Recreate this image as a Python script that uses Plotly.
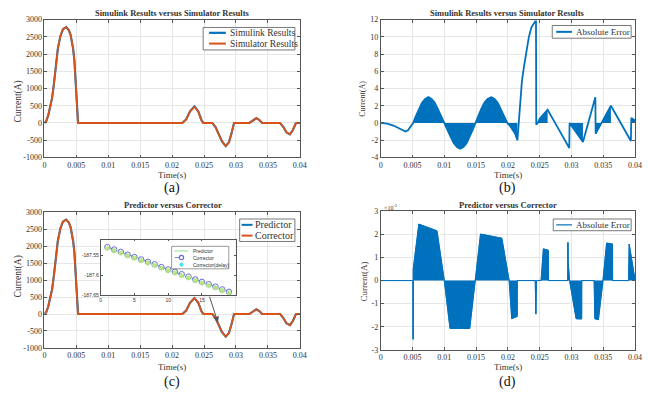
import plotly.graph_objects as go

W, H = 649, 395
SERIF = "Liberation Serif"
SANS = "Liberation Sans"
BLUE = "#0072BD"
ORANGE = "#D95319"
AXIS_C = "#555555"
GRID_C = "#e6e6e6"
TXT_C = "#333333"

# ---------------- data ----------------
time_ticks = [0, 0.005, 0.01, 0.015, 0.02, 0.025, 0.03, 0.035, 0.04]
time_labels = ["0", "0.005", "0.01", "0.015", "0.02", "0.025", "0.03", "0.035", "0.04"]

cur_ticks = [-1000, -500, 0, 500, 1000, 1500, 2000, 2500, 3000]
cur_labels = ["-1000", "-500", "0", "500", "1000", "1500", "2000", "2500", "3000"]

err_ticks_b = [-4, -2, 0, 2, 4, 6, 8, 10, 12]
err_labels_b = ["-4", "-2", "0", "2", "4", "6", "8", "10", "12"]

err_ticks_d = [-3, -2, -1, 0, 1, 2, 3]
err_labels_d = ["-3", "-2", "-1", "0", "1", "2", "3"]

# (a) Simulink vs Simulator currents (A)
time_a = [0, 0.0003, 0.0006, 0.0009, 0.0012, 0.0015, 0.0018, 0.0021, 0.0025, 0.0029,
          0.0034, 0.0038, 0.0041, 0.0043, 0.0045, 0.0047, 0.0049, 0.0051, 0.00527,
          0.008, 0.012, 0.016, 0.0216, 0.0222, 0.0228, 0.0235, 0.0241, 0.0246, 0.0249,
          0.0263, 0.0268, 0.0273, 0.0278, 0.0284, 0.0289, 0.0293, 0.0297,
          0.0321, 0.0327, 0.0332, 0.0337, 0.0341,
          0.0369, 0.0374, 0.0379, 0.03845, 0.0389, 0.0394, 0.04]
simulator_a = [0, 60, 220, 440, 720, 1150, 1700, 2150, 2520, 2720,
               2780, 2700, 2560, 2400, 2150, 1800, 1250, 600, 0,
               0, 8, 0, 0, 100, 330, 470, 330, 80, 0,
               0, -120, -330, -530, -668, -560, -300, 0,
               0, 90, 140, 80, 0,
               0, -110, -270, -330, -210, 0, 0]
simulink_a = [0, 60, 220, 440, 720, 1150, 1700, 2150, 2520, 2720,
              2781, 2701, 2560, 2400, 2150, 1800, 1250, 600, 0,
              0, 8, 0, 0, 102, 338, 481, 342, 80, 0,
              0, -120, -331, -531, -670, -562, -302, 0,
              0, 91, 142, 81, 0,
              0, -110, -271, -331, -211, 0, 0]

# (b) absolute error, Simulink - Simulator (A)
time_b = [0, 0.001, 0.002, 0.003, 0.0035, 0.0039, 0.0043, 0.0047, 0.0051,
          0.0055, 0.006, 0.0065, 0.007, 0.0075, 0.008, 0.0085, 0.009, 0.0095, 0.0100,
          0.0105, 0.011, 0.0115, 0.012, 0.0125, 0.013, 0.0135, 0.014, 0.0145, 0.0149,
          0.0153, 0.0158, 0.0163, 0.0168, 0.0174, 0.0179, 0.0184, 0.0189, 0.0194, 0.0199,
          0.0203, 0.0207, 0.0211, 0.0215,
          0.0217, 0.0219, 0.0222, 0.0225, 0.0229, 0.0233, 0.0237, 0.0241, 0.0243, 0.02442,
          0.02446, 0.0247,
          0.0250, 0.0256, 0.02625,
          0.0278, 0.02965, 0.0297,
          0.0307, 0.0318,
          0.03375, 0.0338,
          0.0362,
          0.03934, 0.0394, 0.0400]
error_b = [0, -0.08, -0.3, -0.7, -0.9, -1.0, -0.85, -0.45, 0,
           0.75, 1.6, 2.35, 2.8, 3.0, 2.8, 2.35, 1.6, 0.75, 0,
           -0.75, -1.6, -2.35, -2.8, -3.0, -2.8, -2.35, -1.6, -0.75, 0,
           0.75, 1.6, 2.35, 2.8, 3.0, 2.8, 2.35, 1.6, 0.75, 0,
           -0.3, -0.7, -1.2, -2.0,
           0.0, 2.5, 4.8, 6.4, 8.5, 10.0, 11.1, 11.65, 11.8, 11.8,
           -0.2, 0.0,
           0.5, 1.0, 1.53,
           -0.48, -2.9, 0.0,
           -1.0, -2.2,
           3.0, -1.24,
           2.0,
           -2.1, 0.57, 0.3]
# time windows in which the error oscillates sample-to-sample (drawn filled)
fill_windows_b = [(0.0051, 0.0100), (0.0100, 0.0149), (0.0149, 0.0199), (0.0199, 0.0215),
                  (0.0247, 0.02625), (0.0297, 0.0318), (0.0338, 0.0362), (0.0394, 0.0400)]

# (c) predictor vs corrector currents (A)
time_c = time_a
predictor_c = [0, 60, 220, 440, 720, 1150, 1700, 2150, 2520, 2720,
               2780, 2700, 2560, 2400, 2150, 1800, 1250, 600, 0,
               0, 8, 0, 0, 100, 330, 470, 330, 80, 0,
               0, -120, -330, -530, -668, -560, -300, 0,
               0, 90, 140, 80, 0,
               0, -110, -270, -330, -210, 0, 0]
corrector_c = [0, 60, 220, 440, 720, 1150, 1700, 2150, 2520, 2720,
               2780, 2700, 2560, 2400, 2150, 1800, 1250, 600, 0,
               0, 8, 0, 0, 100, 330, 470, 330, 80, 0,
               0, -120, -330, -530, -668, -560, -300, 0,
               0, 90, 140, 80, 0,
               0, -110, -270, -330, -210, 0, 0]

# inset of (c): zoom on samples around t = 0.027 s
inset_step = [1, 2, 3, 4, 5, 6, 7, 8, 9, 10, 11, 12, 13, 14, 15, 16, 17, 18, 19]
inset_predictor = [-187.530, -187.536, -187.542, -187.549, -187.555, -187.561, -187.567,
                   -187.573, -187.580, -187.586, -187.592, -187.598, -187.604, -187.611,
                   -187.617, -187.623, -187.629, -187.636, -187.642]
inset_corrector = [-187.530, -187.536, -187.542, -187.549, -187.555, -187.561, -187.567,
                   -187.573, -187.580, -187.586, -187.592, -187.598, -187.604, -187.611,
                   -187.617, -187.623, -187.629, -187.636, -187.642]
inset_corrector_delay = [-187.533, -187.539, -187.545, -187.552, -187.558, -187.564, -187.570,
                         -187.576, -187.583, -187.589, -187.595, -187.601, -187.607, -187.614,
                         -187.620, -187.626, -187.632, -187.639, -187.645]
inset_yticks = [-187.65, -187.6, -187.55]
inset_ylabels = ["-187.65", "-187.6", "-187.55"]
inset_xticks = [0, 5, 10, 15]
inset_xlabels = ["0", "5", "10", "15"]

# (d) absolute error predictor - corrector (x1e-3 A)
time_d = [0, 0.00508, 0.0051, 0.00512, 0.0060, 0.00885, 0.0100, 0.0109, 0.0140, 0.01488,
          0.0157, 0.01905, 0.0202, 0.0206, 0.02147, 0.02148, 0.0243, 0.0244, 0.0245,
          0.02522, 0.02558, 0.02636, 0.02637, 0.0294, 0.02944, 0.02948, 0.0297,
          0.03073, 0.0316, 0.03161, 0.03356, 0.03367, 0.03423, 0.03495,
          0.03552, 0.03645, 0.03646, 0.03897, 0.03907, 0.0399, 0.0400]
error_d = [0, 0, -2.54, 0.5, 2.44, 2.15, 0, -2.07, -2.07, 0,
           2.01, 1.83, 0, -1.65, -1.55, 0, 0, -1.45, 0,
           0, 1.37, 1.31, 0, 0, 1.65, 0.8, 0,
           -1.65, -1.66, 0, 0, -1.65, -1.69, 0,
           1.62, 1.58, 0, 0, 1.58, 0, 0]

# arrow in (c): from inset to the zoomed sample (data coords of panel c)
arrow_tail = (0.02579, 554)
arrow_head = (0.02718, -252)

# ---------------- helpers ----------------
def px(x):
    return x / W


def py(y):
    return 1 - y / H


def axis(dom, rng, tv, tt, anchor, font_size=8, family=SERIF, grid=True, ticklen=3):
    return dict(domain=dom, range=rng, tickvals=tv, ticktext=tt, anchor=anchor,
                ticks="inside", ticklen=ticklen, tickwidth=0.8, tickcolor=AXIS_C,
                showline=True, linecolor=AXIS_C, linewidth=0.8, mirror="ticks",
                showgrid=grid, gridcolor=GRID_C, gridwidth=0.8, zeroline=False,
                tickfont=dict(family=family, size=font_size, color=TXT_C),
                fixedrange=True)


fig = go.Figure()

# (a)
fig.add_trace(go.Scatter(x=time_a, y=simulink_a, xaxis="x", yaxis="y", mode="lines",
                         name="Simulink Results", line=dict(color=BLUE, width=2.1)))
fig.add_trace(go.Scatter(x=time_a, y=simulator_a, xaxis="x", yaxis="y", mode="lines",
                         name="Simulator Results", line=dict(color=ORANGE, width=1.8)))

# (b)
for (t0, t1) in fill_windows_b:
    xs = [t for t in time_b if t0 <= t <= t1]
    ys = [v for t, v in zip(time_b, error_b) if t0 <= t <= t1]
    fig.add_trace(go.Scatter(x=xs, y=ys, xaxis="x2", yaxis="y2", mode="lines",
                             line=dict(color=BLUE, width=0.6), fill="tozeroy",
                             fillcolor=BLUE, showlegend=False))
fig.add_trace(go.Scatter(x=time_b, y=error_b, xaxis="x2", yaxis="y2", mode="lines",
                         name="Absolute Error", line=dict(color=BLUE, width=1.8)))

# (c)
fig.add_trace(go.Scatter(x=time_c, y=predictor_c, xaxis="x3", yaxis="y3", mode="lines",
                         name="Predictor", line=dict(color=BLUE, width=2.1)))
fig.add_trace(go.Scatter(x=time_c, y=corrector_c, xaxis="x3", yaxis="y3", mode="lines",
                         name="Corrector", line=dict(color=ORANGE, width=1.8)))

# (d)
fig.add_trace(go.Scatter(x=time_d, y=error_d, xaxis="x4", yaxis="y4", mode="lines",
                         line=dict(color=BLUE, width=0.8), fill="tozeroy", fillcolor=BLUE,
                         showlegend=False))
fig.add_trace(go.Scatter(x=time_d, y=error_d, xaxis="x4", yaxis="y4", mode="lines",
                         name="Absolute Error", line=dict(color=BLUE, width=1)))

# inset
CIRC_C = "#6a6ad6"
STAR_C = "#30e4ea"
fig.add_trace(go.Scatter(x=inset_step, y=inset_predictor, xaxis="x5", yaxis="y5", mode="lines",
                         name="Predictor", line=dict(color="#8ee08e", width=0.8)))
fig.add_trace(go.Scatter(x=inset_step, y=inset_corrector, xaxis="x5", yaxis="y5",
                         mode="lines+markers", name="Corrector",
                         line=dict(color=CIRC_C, width=0.7, dash="dash"),
                         marker=dict(symbol="circle-open", size=5.5,
                                     line=dict(color=CIRC_C, width=1.0))))
fig.add_trace(go.Scatter(x=inset_step, y=inset_corrector_delay, xaxis="x5", yaxis="y5",
                         mode="markers", name="Corrector(delay)",
                         marker=dict(symbol="asterisk-open", size=4.5,
                                     line=dict(color=STAR_C, width=1.1))))

# domains in px
A = dict(x=(43, 302), y=(16, 157))
B = dict(x=(384, 642), y=(16, 157))
C = dict(x=(43, 302), y=(213, 352))
D = dict(x=(384, 642), y=(212, 354))
INS = dict(x=(100, 237), y=(241, 298))


def dx(p):
    return [px(p["x"][0]), px(p["x"][1])]


def dy(p):
    return [py(p["y"][1]), py(p["y"][0])]


layout = dict(width=W, height=H, autosize=False, margin=dict(l=0, r=0, t=0, b=0),
              paper_bgcolor="white", plot_bgcolor="white", showlegend=False,
              font=dict(family=SERIF, color=TXT_C))
layout["xaxis"] = axis(dx(A), [0, 0.04], time_ticks, time_labels, "y")
layout["yaxis"] = axis(dy(A), [-1000, 3000], cur_ticks, cur_labels, "x")
layout["xaxis2"] = axis(dx(B), [0, 0.04], time_ticks, time_labels, "y2")
layout["yaxis2"] = axis(dy(B), [-4, 12], err_ticks_b, err_labels_b, "x2")
layout["xaxis3"] = axis(dx(C), [0, 0.04], time_ticks, time_labels, "y3")
layout["yaxis3"] = axis(dy(C), [-1000, 3000], cur_ticks, cur_labels, "x3")
layout["xaxis4"] = axis(dx(D), [0, 0.04], time_ticks, time_labels, "y4")
layout["yaxis4"] = axis(dy(D), [-3, 3], err_ticks_d, err_labels_d, "x4")
layout["xaxis5"] = axis(dx(INS), [0, 20], inset_xticks, inset_xlabels, "y5",
                        font_size=5, family=SANS, grid=False, ticklen=2)
layout["yaxis5"] = axis(dy(INS), [-187.6505, -187.511], inset_yticks, inset_ylabels, "x5",
                        font_size=5, family=SANS, grid=False, ticklen=2)
fig.update_layout(**layout)

annotations = []
shapes = []


def text(x, y, s, size, family=SERIF, xanchor="center", angle=0, color=TXT_C):
    annotations.append(dict(x=px(x), y=py(y), xref="paper", yref="paper", text=s,
                            showarrow=False, xanchor=xanchor, yanchor="middle",
                            textangle=angle, font=dict(family=family, size=size, color=color)))


# titles
text(173, 9, "<b>Simulink Results versus Simulator Results</b>", 8.5)
text(513, 9, "<b>Simulink Results versus Simulator Results</b>", 8.5)
text(173, 206, "<b>Predictor versus Corrector</b>", 8.5)
text(513, 206, "<b>Predictor versus Corrector</b>", 8.5)
# axis titles
for cx, cy in [(172, 175), (513, 175), (172, 371), (513, 371)]:
    text(cx, cy, "Time(s)", 9)
text(17, 100, "Current(A)", 9.5, angle=-90)
text(366, 97, "Current(A)", 8, angle=-90)
text(17, 279, "Current(A)", 9.5, angle=-90)
text(367, 284, "Current(A)", 9, angle=-90)
# sub-figure labels
text(172, 188, "(a)", 14, color="#111")
text(513, 188, "(b)", 14, color="#111")
text(172, 387, "(c)", 14, color="#111")
text(513, 387, "(d)", 14, color="#111")
# exponent for (d)
text(385, 208, "×10<sup>-3</sup>", 6, xanchor="left")


def rect(x0, y0, x1, y1, lw=0.8, color=AXIS_C):
    shapes.append(dict(type="rect", xref="paper", yref="paper", x0=px(x0), x1=px(x1),
                       y0=py(y1), y1=py(y0), fillcolor="white",
                       line=dict(color=color, width=lw), layer="above"))


def seg(x0, y0, x1, y1, color, width, dash="solid"):
    shapes.append(dict(type="line", xref="paper", yref="paper", x0=px(x0), x1=px(x1),
                       y0=py(y0), y1=py(y1), line=dict(color=color, width=width, dash=dash),
                       layer="above"))


# legend (a)
rect(204, 24, 297, 47)
seg(210, 29.5, 227, 29.5, BLUE, 2.2)
seg(210, 40.5, 227, 40.5, ORANGE, 2)
text(229, 29.5, "Simulink Results", 9.5, xanchor="left")
text(229, 40.5, "Simulator Results", 9.5, xanchor="left")
# legend (b)
rect(558, 22, 638, 35)
seg(562, 28.5, 578, 28.5, BLUE, 2)
text(580, 28.5, "Absolute Error", 9, xanchor="left")
# legend (c)
rect(241, 220, 297, 243)
seg(243, 226, 254, 226, BLUE, 2)
seg(243, 237, 254, 237, ORANGE, 2)
text(255, 226, "Predictor", 10, xanchor="left")
text(255, 237, "Corrector", 10, xanchor="left")
# legend (d)
rect(559, 220, 638, 232)
seg(562, 226, 578, 226, BLUE, 1.2)
text(580, 226, "Absolute Error", 9, xanchor="left")

# inset legend
rect(172, 248, 230, 271, lw=0.6)
seg(175, 252.7, 189, 252.7, "#8ee08e", 1)
text(192, 252.7, "Predictor", 5, family=SANS, xanchor="left")
seg(175, 259.5, 189, 259.5, CIRC_C, 0.8, dash="dash")
shapes.append(dict(type="circle", xref="paper", yref="paper", x0=px(179.8), x1=px(184.2),
                   y0=py(261.7), y1=py(257.3), line=dict(color=CIRC_C, width=1.2),
                   fillcolor="white", layer="above"))
text(192, 259.5, "Corrector", 5, family=SANS, xanchor="left")
sx, sy, r = 182, 266.7, 2.2
seg(sx - r, sy, sx + r, sy, STAR_C, 1)
seg(sx, sy - r, sx, sy + r, STAR_C, 1)
seg(sx - 1.6, sy - 1.6, sx + 1.6, sy + 1.6, STAR_C, 1)
seg(sx - 1.6, sy + 1.6, sx + 1.6, sy - 1.6, STAR_C, 1)
text(192, 266.7, "Corrector(delay)", 5, family=SANS, xanchor="left")

# arrow from inset to the curve in (c)
annotations.append(dict(x=arrow_head[0], y=arrow_head[1], xref="x3", yref="y3",
                        ax=arrow_tail[0], ay=arrow_tail[1], axref="x3", ayref="y3",
                        showarrow=True, arrowhead=2, arrowsize=1.2, arrowwidth=1,
                        arrowcolor="#555555", text=""))

fig.update_layout(annotations=annotations, shapes=shapes)
fig.write_html("out.html", config={"displayModeBar": False},
               post_script="document.body.style.margin='0px';")
